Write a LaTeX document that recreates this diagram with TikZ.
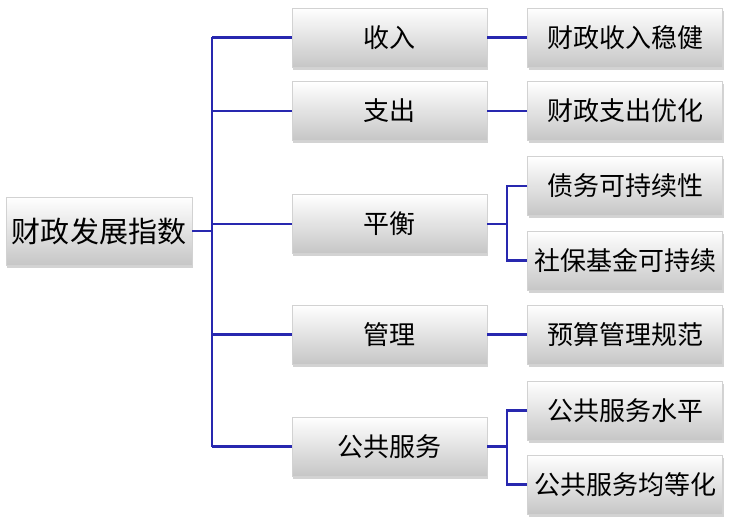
\documentclass[tikz,border=0pt]{standalone}
\usepackage{fontspec}
\setmainfont{Noto Sans CJK SC}
\usetikzlibrary{shadows}
\definecolor{linkblue}{RGB}{40,40,175}
\definecolor{boxgray}{RGB}{198,198,198}

\begin{document}
\begin{tikzpicture}[x=1pt,y=-1pt,
    box/.style={draw=gray!35, top color=white, bottom color=boxgray,
      minimum width=195pt, minimum height=59pt, inner sep=0pt,
      font=\fontsize{26}{30}\selectfont,
      drop shadow={shadow xshift=1pt, shadow yshift=-3pt, opacity=0.35}},
    link/.style={draw=linkblue, line width=2.4pt}]
      \useasboundingbox (0,0) rectangle (741,518);

      % Root
      \node[box, minimum width=186pt, minimum height=68pt,
        font=\fontsize{29}{33}\selectfont] (root) at (99,231) {财政发展指数};

      % Level one
      \node[box] (in)  at (389.5,37.5)  {收入};
      \node[box] (out) at (389.5,111)   {支出};
      \node[box] (bal) at (389.5,224)   {平衡};
      \node[box] (mgt) at (389.5,334.5) {管理};
      \node[box] (pub) at (389.5,446.5) {公共服务};

      % Level two
      \node[box] (inA)  at (625,37.5)  {财政收入稳健};
      \node[box] (outA) at (625,111)   {财政支出优化};
      \node[box] (debt) at (625,186)   {债务可持续性};
      \node[box] (fund) at (625,260.5) {社保基金可持续};
      \node[box] (bud)  at (625,334.5) {预算管理规范};
      \node[box] (pubA) at (625,410.5) {公共服务水平};
      \node[box] (pubB) at (625,484.5) {公共服务均等化};

      % Trunk
      \coordinate (j0) at (212,231);
      \draw[link] (root.east) -- (j0);
      \draw[link] (j0 |- in) -- (j0 |- pub);
      \foreach \n in {in, out, bal, mgt, pub}
        \draw[link] (j0 |- \n) -- (\n.west);

      % Branches
      \draw[link] (in.east) -- (inA.west);
      \draw[link] (out.east) -- (outA.west);
      \draw[link] (mgt.east) -- (bud.west);
      \coordinate (j1) at (507,224);
      \draw[link] (bal.east) -- (j1);
      \draw[link] (debt.west) -| (j1) |- (fund.west);
      \coordinate (j2) at (507,446.5);
      \draw[link] (pub.east) -- (j2);
      \draw[link] (pubA.west) -| (j2) |- (pubB.west);
\end{tikzpicture}
\end{document}
